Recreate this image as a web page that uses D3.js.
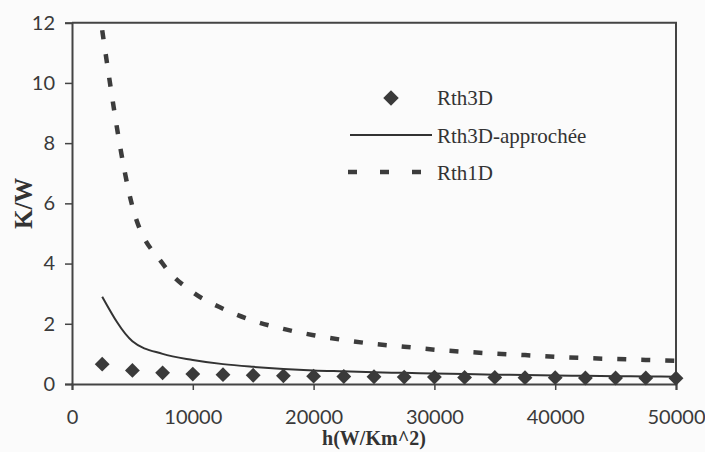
<!DOCTYPE html>
<html>
<head>
<meta charset="utf-8">
<script src="https://cdn.jsdelivr.net/npm/d3@7"></script>
<style>
  body { margin: 0; background: #fbfbfb; }
</style>
</head>
<body>
<div class="chart-area"></div>
<script>
// data
var hValues = [2500, 5000, 7500, 10000, 12500, 15000, 17500, 20000, 22500, 25000,
               27500, 30000, 32500, 35000, 37500, 40000, 42500, 45000, 47500, 50000];
var rth3D = [0.66, 0.45, 0.37, 0.33, 0.31, 0.29, 0.27, 0.26, 0.25, 0.24,
             0.23, 0.23, 0.22, 0.22, 0.21, 0.21, 0.2, 0.2, 0.2, 0.19];
var rth3DApprochee = [2.9, 1.42, 1.0, 0.8, 0.66, 0.57, 0.5, 0.45, 0.42, 0.39,
                      0.37, 0.35, 0.33, 0.31, 0.3, 0.28, 0.27, 0.26, 0.25, 0.24];
var rth1D = [11.75, 5.9, 4.0, 3.05, 2.5, 2.1, 1.83, 1.62, 1.46, 1.33,
             1.24, 1.14, 1.07, 1.01, 0.96, 0.9, 0.86, 0.83, 0.8, 0.77];
var xTicks = [0, 10000, 20000, 30000, 40000, 50000];
var yTicks = [0, 2, 4, 6, 8, 10, 12];
var legendLabels = ["Rth3D", "Rth3D-approchée", "Rth1D"];

var ink = "#333";
var serif = "'Liberation Serif', 'Times New Roman', serif";
var sans = "Lato, 'Open Sans', sans-serif";

var svg = d3.select(".chart-area")
    .append("svg")
    .attr("width", 705)
    .attr("height", 452);

var x = d3.scaleLinear().domain([0, 50000]).range([72, 676]);
var y = d3.scaleLinear().domain([0, 12]).range([384, 22.7]);

// frame (top and right)
svg.append("path")
    .attr("d", "M" + x(0) + "," + y(12) + "H" + x(50000) + "V" + y(0))
    .attr("fill", "none")
    .attr("stroke", "#444")
    .attr("stroke-width", 2);

var yAxis = svg.append("g")
    .attr("transform", "translate(" + x(0) + ",0)")
    .call(d3.axisLeft(y).tickValues(yTicks).tickSize(7).tickPadding(10).tickFormat(d3.format("d")));

var xAxis = svg.append("g")
    .attr("transform", "translate(0," + y(0) + ")")
    .call(d3.axisBottom(x).tickValues(xTicks).tickSize(6).tickPadding(20).tickFormat(d3.format("d")));

[xAxis, yAxis].forEach(function (g) {
    g.select(".domain").attr("stroke", "#444").attr("stroke-width", 2);
    g.selectAll(".tick line").attr("stroke", "#444").attr("stroke-width", 1.5);
    g.selectAll(".tick text")
        .style("font-family", sans)
        .style("font-size", "20px")
        .attr("fill", "#3a3a3a");
});

// axis titles
svg.append("text")
    .attr("x", (x(0) + x(50000)) / 2)
    .attr("y", 445)
    .attr("text-anchor", "middle")
    .style("font-family", serif)
    .style("font-size", "20px")
    .style("font-weight", "bold")
    .attr("fill", ink)
    .text("h(W/Km^2)");

svg.append("text")
    .attr("transform", "translate(32," + ((y(0) + y(12)) / 2) + ") rotate(-90)")
    .attr("text-anchor", "middle")
    .style("font-family", serif)
    .style("font-size", "25px")
    .style("font-weight", "bold")
    .attr("fill", ink)
    .text("K/W");

var points = hValues.map(function (h, i) {
    return { h: h, r3: rth3D[i], ra: rth3DApprochee[i], r1: rth1D[i] };
});

// Rth1D dashed
svg.append("path")
    .datum(points)
    .attr("fill", "none")
    .attr("stroke", "#3c3c3c")
    .attr("stroke-width", 4.5)
    .attr("stroke-dasharray", "9,15")
    .attr("d", d3.line().curve(d3.curveMonotoneX)
        .x(function (d) { return x(d.h); })
        .y(function (d) { return y(d.r1); }));

// Rth3D-approchée solid
svg.append("path")
    .datum(points)
    .attr("fill", "none")
    .attr("stroke", ink)
    .attr("stroke-width", 2)
    .attr("d", d3.line().curve(d3.curveMonotoneX)
        .x(function (d) { return x(d.h); })
        .y(function (d) { return y(d.ra); }));

// Rth3D diamonds
var diamond = d3.symbol().type(d3.symbolSquare).size(110);
svg.selectAll(".pt")
    .data(points)
    .enter()
    .append("path")
    .attr("class", "pt")
    .attr("d", diamond)
    .attr("transform", function (d) { return "translate(" + x(d.h) + "," + y(d.r3) + ") rotate(45)"; })
    .attr("fill", "#3a3a3a");

// legend
var lg = svg.append("g");
lg.append("path")
    .attr("d", d3.symbol().type(d3.symbolSquare).size(120))
    .attr("transform", "translate(391,98) rotate(45)")
    .attr("fill", "#3a3a3a");
lg.append("line")
    .attr("x1", 350).attr("x2", 432).attr("y1", 135).attr("y2", 135)
    .attr("stroke", ink).attr("stroke-width", 2);
lg.append("line")
    .attr("x1", 348).attr("x2", 424).attr("y1", 172).attr("y2", 172)
    .attr("stroke", "#3c3c3c").attr("stroke-width", 4.5)
    .attr("stroke-dasharray", "9,23");
lg.selectAll("text")
    .data(legendLabels)
    .enter()
    .append("text")
    .attr("x", 437)
    .attr("y", function (d, i) { return 105 + i * 37.5; })
    .style("font-family", serif)
    .style("font-size", "21px")
    .attr("fill", ink)
    .text(function (d) { return d; });
</script>
</body>
</html>
